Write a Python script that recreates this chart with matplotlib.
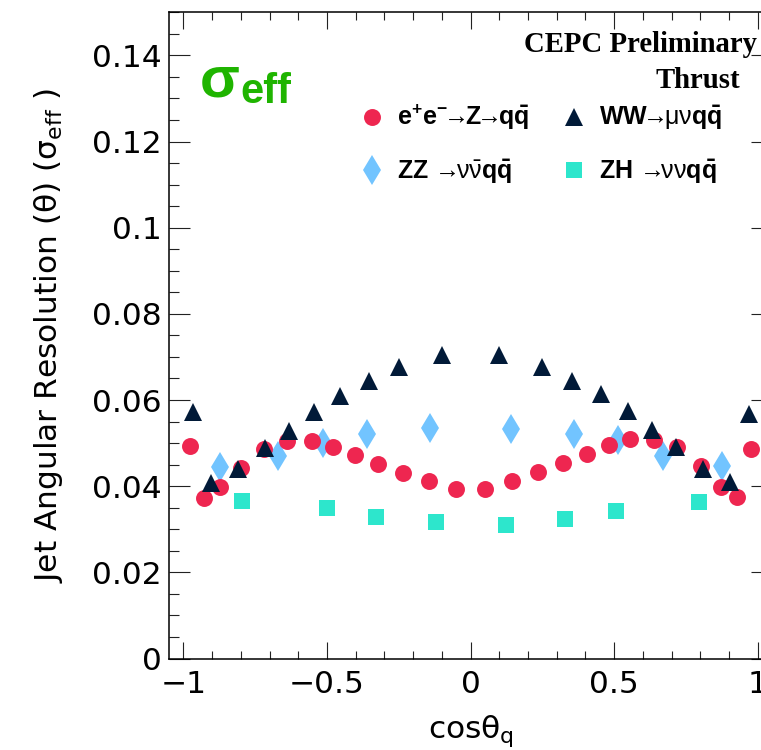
import matplotlib
matplotlib.use('Agg')
import matplotlib.pyplot as plt
from matplotlib.ticker import MultipleLocator, FuncFormatter
from matplotlib.font_manager import FontProperties

# values (cos theta_q, sigma_eff)
ee_x = [-0.976, -0.928, -0.874, -0.799, -0.720, -0.639, -0.553, -0.480, -0.402, -0.321, -0.234, -0.145, -0.050,
        0.050, 0.145, 0.235, 0.321, 0.404, 0.481, 0.554, 0.640, 0.718, 0.802, 0.874, 0.929, 0.978]
ee_y = [0.0493, 0.0373, 0.0397, 0.0443, 0.0487, 0.0506, 0.0505, 0.0492, 0.0472, 0.0451, 0.0431, 0.0413, 0.0394,
        0.0394, 0.0413, 0.0434, 0.0453, 0.0475, 0.0496, 0.0509, 0.0507, 0.0490, 0.0447, 0.0399, 0.0374, 0.0486]

ww_x = [-0.968, -0.903, -0.810, -0.714, -0.633, -0.545, -0.454, -0.355, -0.249, -0.098,
        0.098, 0.250, 0.354, 0.454, 0.547, 0.633, 0.714, 0.811, 0.904, 0.969]
ww_y = [0.0573, 0.0407, 0.0439, 0.0488, 0.0527, 0.0573, 0.0609, 0.0643, 0.0677, 0.0704,
        0.0704, 0.0676, 0.0645, 0.0613, 0.0574, 0.0530, 0.0490, 0.0439, 0.0410, 0.0568]

zz_x = [-0.873, -0.669, -0.513, -0.359, -0.141, 0.142, 0.361, 0.515, 0.671, 0.876]
zz_y = [0.0444, 0.0470, 0.0501, 0.0521, 0.0534, 0.0532, 0.0521, 0.0507, 0.0470, 0.0447]

zh_x = [-0.795, -0.501, -0.328, -0.119, 0.122, 0.330, 0.505, 0.797]
zh_y = [0.0366, 0.0349, 0.0328, 0.0317, 0.0309, 0.0323, 0.0342, 0.0363]

labels = [r'$\mathbf{e^{+}e^{-}}\!\mathrm{→}\!\mathbf{Z}\!\mathrm{→}\!\mathbf{q\bar{q}}$',
          r'$\mathbf{ZZ}\ \mathrm{→}\!\mathrm{ν\bar{ν}}\mathbf{q\bar{q}}$',
          r'$\mathbf{WW}\!\mathrm{→}\!\mathrm{μν}\mathbf{q\bar{q}}$',
          r'$\mathbf{ZH}\ \mathrm{→}\!\mathrm{νν}\mathbf{q\bar{q}}$']

plt.rcParams['font.family'] = ['DejaVu Sans']
plt.rcParams['mathtext.fontset'] = 'dejavusans'
plt.rcParams['mathtext.rm'] = 'Liberation Sans'
plt.rcParams['mathtext.bf'] = 'Liberation Sans:bold'
plt.rcParams['mathtext.it'] = 'Liberation Sans:italic'
plt.rcParams['mathtext.sf'] = 'Liberation Sans'

fig = plt.figure(figsize=(7.61, 7.5), dpi=100)
ax = fig.add_axes([169 / 761, 1 - 658.5 / 750, 603 / 761, 646.2 / 750])

# draw order: diamonds under circles under triangles
l_zz, = ax.plot(zz_x, zz_y, 'd', color='#72c4ff', ms=15.5, mew=0, zorder=2)
l_zh, = ax.plot(zh_x, zh_y, 's', color='#2de6cc', ms=12.2, mew=0, zorder=2)
l_ee, = ax.plot(ee_x, ee_y, 'o', color='#ee2650', ms=12.2, mew=0, zorder=3)
l_ww, = ax.plot(ww_x, ww_y, '^', color='#011a38', ms=13, mew=0, zorder=4)

ax.set_xlim(-1.05, 1.05)
ax.set_ylim(0, 0.15)

ax.xaxis.set_major_locator(MultipleLocator(0.5))
ax.xaxis.set_minor_locator(MultipleLocator(0.1))
ax.yaxis.set_major_locator(MultipleLocator(0.02))
ax.yaxis.set_minor_locator(MultipleLocator(0.005))
fmt = FuncFormatter(lambda v, p: ('%g' % round(v, 3)).replace('-', '\u2212'))
ax.xaxis.set_major_formatter(fmt)
ax.yaxis.set_major_formatter(fmt)

ax.tick_params(which='both', direction='in', top=True, right=True, width=0.8, color='#222222')
ax.tick_params(axis='x', which='major', length=12, pad=8.3, labelsize=22.5)
ax.tick_params(axis='x', which='minor', length=6)
ax.tick_params(axis='y', which='major', length=15, pad=5, labelsize=22.5)
ax.tick_params(axis='y', which='minor', length=7.2)
for s in ax.spines.values():
    s.set_linewidth(1.1)

ax.set_xlabel('cosθ$_\\mathregular{q}$', fontsize=22.5, labelpad=10)
ax.set_ylabel('Jet Angular Resolution (θ) (σ$_\\mathregular{eff}$ )', fontsize=22.5, labelpad=20)

leg_font = FontProperties(family='Liberation Sans', size=18, math_fontfamily='custom')
ax.legend(handles=[l_ee, l_zz, l_ww, l_zh], labels=labels, ncol=2, frameon=False,
          loc='upper left', bbox_to_anchor=(0.469, 0.8627), bbox_transform=fig.transFigure,
          prop=leg_font, handlelength=1.2, handletextpad=0.4, columnspacing=1.2,
          labelspacing=1.0, borderpad=0, borderaxespad=0)

fig.text(0.9947, 0.931, 'CEPC Preliminary', ha='right', va='baseline',
         family='Liberation Serif', weight='bold', fontsize=20.7)
fig.text(0.9724, 0.8827, 'Thrust', ha='right', va='baseline',
         family='Liberation Serif', weight='bold', fontsize=20.7)
fig.text(0.2628, 0.8707, 'σ', ha='left', va='baseline', color='#1fb400',
         family='Liberation Sans', weight='bold', fontsize=42)
fig.text(0.3154, 0.8627, 'eff', ha='left', va='baseline', color='#1fb400',
         family='Liberation Sans', weight='bold', fontsize=30)

fig.savefig('out.png', dpi=100)
